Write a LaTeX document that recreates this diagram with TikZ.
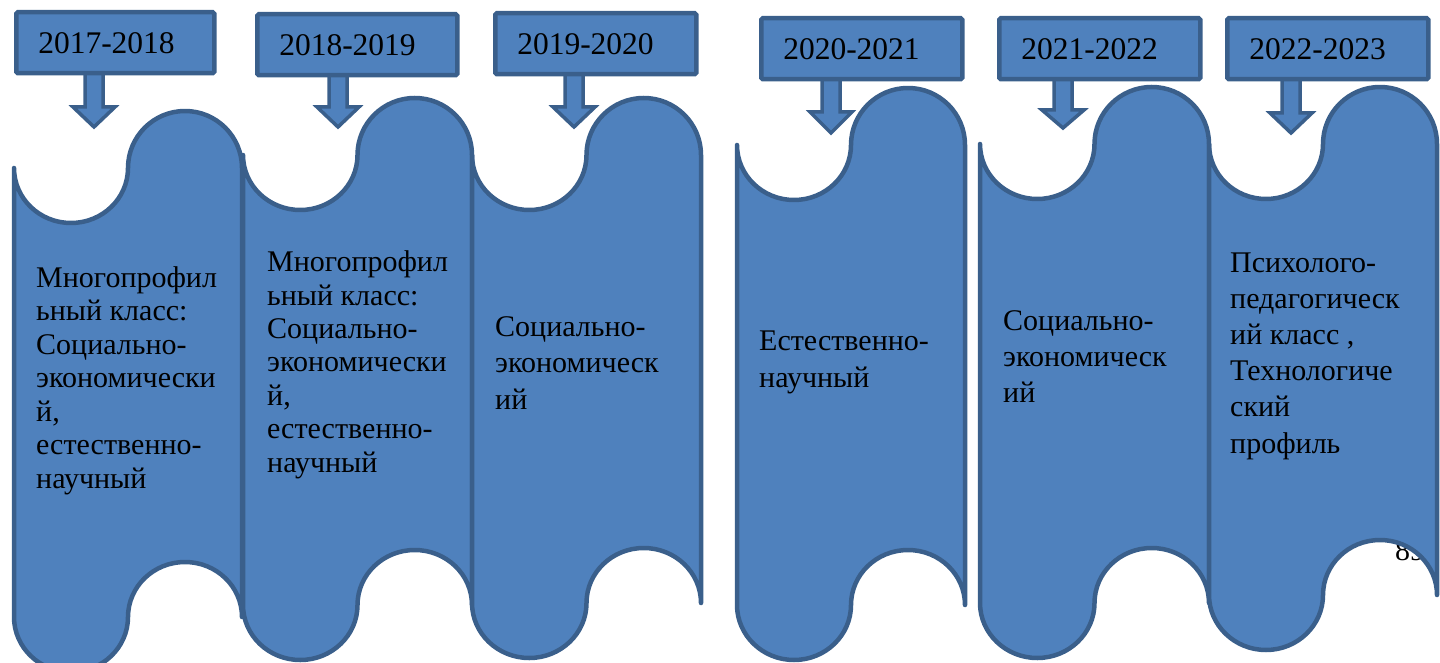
\documentclass[tikz,border=0pt]{standalone}
\usepackage{fontspec}
\setmainfont{Liberation Serif}
\definecolor{fillblue}{HTML}{4F81BD}
\definecolor{edgeblue}{HTML}{3A5F8B}
\tikzset{
  wave/.style={fill=fillblue, draw=edgeblue, line width=4.5, line join=round},
  yearbox/.style={fill=fillblue, draw=edgeblue, line width=4.5, rounded corners=1.5,
    anchor=north west, minimum height=61, inner xsep=22, inner ysep=0, align=left,
    font=\fontsize{31.5}{36}\selectfont},
  coltext/.style={anchor=base west, inner sep=0, align=left},
  blockarrow/.style={fill=fillblue, draw=edgeblue, line width=3.5, line join=miter},
}
\newcommand\wavecol[4]{% xl, xr, ytop, ybot
  \pgfmathsetmacro\wrx{(#2-#1)/4}%
  \draw[wave] (#1,#3)
    arc[start angle=180, end angle=0, x radius=\wrx, y radius=55]
    arc[start angle=180, end angle=360, x radius=\wrx, y radius=57]
    -- (#2,#4)
    arc[start angle=0, end angle=-180, x radius=\wrx, y radius=55]
    arc[start angle=0, end angle=180, x radius=\wrx, y radius=55]
    -- cycle;
}
\newcommand\downblk[4]{% cx, top, head, tip
  \draw[blockarrow] (#1-9,#2) -- (#1-9,#3) -- (#1-21,#3) -- (#1,#4)
    -- (#1+21,#3) -- (#1+9,#3) -- (#1+9,#2) -- cycle;
}
\begin{document}
\begin{tikzpicture}[x=1pt,y=-1pt]
\useasboundingbox (0,0) rectangle (1440,663);
\clip (0,0) rectangle (1440,663);

% page number partly hidden behind the last column
\node[anchor=base west, inner sep=0, font=\fontsize{30}{36}\selectfont] (pg) at (1395,560) {89};

% columns
\wavecol{14}{242}{168}{617}
\wavecol{243}{472}{155}{605}
\wavecol{472}{701}{155}{603}
\wavecol{737}{965}{145}{605}
\wavecol{980}{1209}{144}{603}
\wavecol{1209}{1437}{144}{595}

% arrows
\downblk{94}{71}{107}{127}
\downblk{338}{74}{107}{127}
\downblk{574}{73}{107}{127}
\downblk{831}{78}{112}{133}
\downblk{1063}{78}{110}{128}
\downblk{1291}{78}{113}{133}

% year boxes
\node[yearbox, text width=154] (y1) at (14,10) {2017-2018};
\node[yearbox, text width=156] (y2) at (255,12) {2018-2019};
\node[yearbox, text width=157] (y3) at (493,11) {2019-2020};
\node[yearbox, text width=157] (y4) at (759,16) {2020-2021};
\node[yearbox, text width=157] (y5) at (997,16) {2021-2022};
\node[yearbox, text width=157] (y6) at (1225,16) {2022-2023};

% column texts (anchored at the baseline of the last line)
\node[coltext, font=\fontsize{30}{33.5}\selectfont] (c1) at (36,488)
  {Многопрофил\\ьный класс:\\Социально-\\экономически\\й,\\естественно-\\научный};
\node[coltext, font=\fontsize{30}{33.4}\selectfont] (c2) at (267,472)
  {Многопрофил\\ьный класс:\\Социально-\\экономически\\й,\\естественно-\\научный};
\node[coltext, font=\fontsize{30}{36.5}\selectfont] (c3) at (495,409)
  {Социально-\\экономическ\\ий};
\node[coltext, font=\fontsize{30}{37}\selectfont] (c4) at (759,387)
  {Естественно-\\научный};
\node[coltext, font=\fontsize{30}{36}\selectfont] (c5) at (1003,402)
  {Социально-\\экономическ\\ий};
\node[coltext, font=\fontsize{30}{36.2}\selectfont] (c6) at (1230,453)
  {Психолого-\\педагогическ\\ий класс ,\\Технологиче\\ский\\профиль};
\end{tikzpicture}
\end{document}
